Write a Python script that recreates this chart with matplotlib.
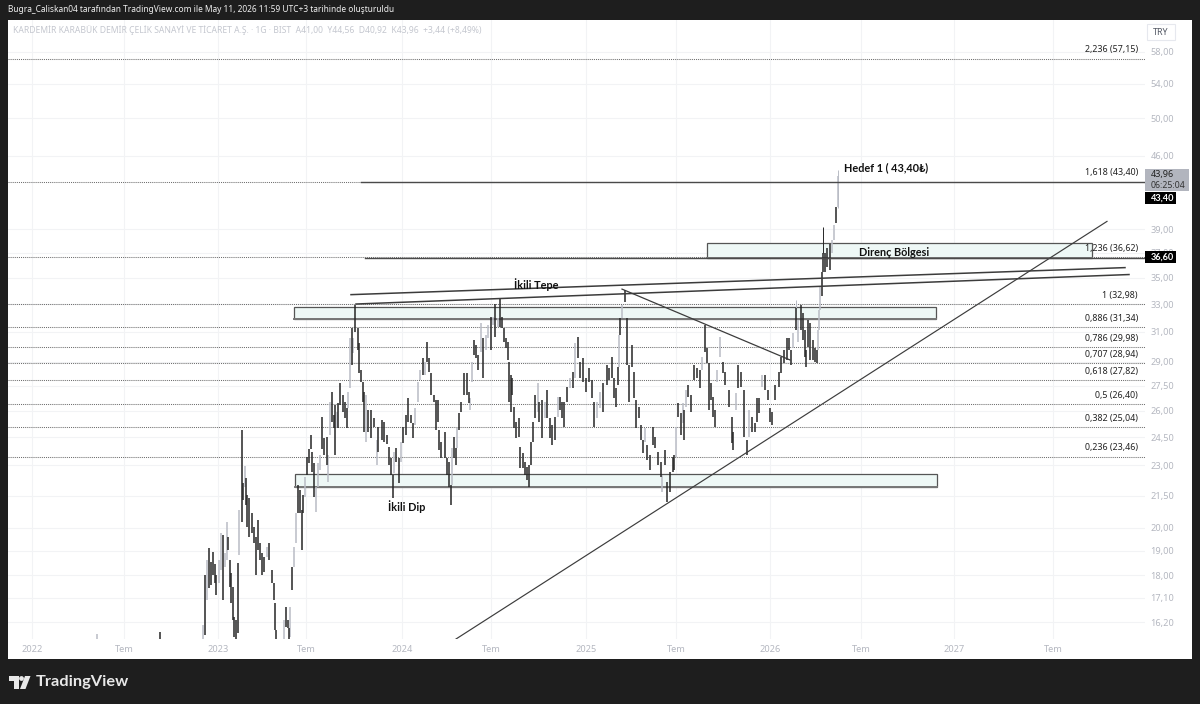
import matplotlib
matplotlib.use("Agg")
import matplotlib.pyplot as plt
from matplotlib.patches import Rectangle, Polygon, Circle
from matplotlib.ticker import FixedLocator, NullLocator

plt.rcParams['font.family'] = ['Noto Sans', 'DejaVu Sans']

# candle bodies, days counted from the start of 2023
bar_day = [
    -242, -116, -30, -26, -22, -18, -14, -10, -6, -4,
    2, 6, 10, 14, 18, 20, 24, 26, 30, 32,
    36, 40, 42, 48, 50, 54, 56, 58, 62, 68,
    72, 76, 80, 84, 88, 92, 98, 102, 108, 112,
    114, 116, 132, 136, 140, 142, 144, 148, 152, 156,
    160, 164, 168, 170, 174, 178, 182, 186, 188, 192,
    196, 200, 204, 208, 212, 218, 220, 224, 228, 232,
    234, 238, 240, 244, 250, 254, 258, 260, 264, 268,
    270, 274, 280, 282, 286, 290, 292, 296, 300, 306,
    312, 318, 320, 328, 332, 338, 342, 346, 350, 352,
    356, 362, 366, 370, 376, 380, 386, 390, 394, 400,
    404, 410, 414, 418, 422, 426, 432, 436, 440, 442,
    446, 454, 458, 462, 466, 468, 472, 476, 478, 482,
    486, 492, 498, 502, 504, 508, 512, 516, 520, 526,
    530, 536, 540, 546, 550, 554, 560, 564, 568, 572,
    576, 580, 582, 586, 588, 592, 596, 602, 604, 610,
    614, 618, 622, 626, 630, 634, 640, 642, 648, 654,
    658, 664, 668, 674, 680, 684, 688, 692, 698, 704,
    710, 714, 720, 724, 730, 736, 742, 748, 752, 758,
    764, 770, 778, 782, 788, 792, 796, 800, 802, 804,
    808, 814, 818, 822, 828, 832, 836, 842, 846, 850,
    854, 858, 864, 870, 874, 880, 886, 888, 894, 898,
    904, 910, 912, 916, 920, 926, 930, 932, 936, 940,
    946, 952, 958, 964, 968, 974, 978, 982, 986, 990,
    994, 998, 1004, 1010, 1014, 1022, 1028, 1030, 1036, 1040,
    1046, 1052, 1058, 1062, 1068, 1074, 1078, 1082, 1088, 1094,
    1100, 1104, 1108, 1114, 1122, 1126, 1132, 1138, 1142, 1146,
    1150, 1156, 1160, 1166, 1170, 1174, 1176, 1180, 1184, 1190,
    1194, 1198, 1200, 1202, 1204, 1208, 1210, 1214, 1218, 1224,
    1228, 1232, 1236, 1240,
]
body_top = [
    15.77, 15.84, 16.10, 18.00, 18.61, 19.12, 18.53, 18.95, 18.44, 18.00,
    18.61, 19.77, 19.68, 18.90, 20.27, 19.59, 18.61, 18.08, 17.52, 16.38,
    16.27, 18.49, 20.82, 24.90, 22.10, 22.96, 22.35, 21.53, 21.39, 20.68,
    20.04, 19.59, 20.36, 19.33, 18.90, 18.73, 19.16, 19.33, 18.20, 17.68,
    16.90, 15.91, 16.27, 16.75, 16.27, 15.98, 16.75, 18.32, 19.16, 20.68,
    22.00, 21.77, 20.82, 21.53, 22.40, 23.44, 23.87, 24.62, 23.70, 23.12,
    21.90, 23.12, 23.54, 25.63, 24.46, 24.51, 23.54, 26.50, 27.11, 25.75,
    26.33, 25.92, 26.44, 27.66, 26.92, 26.50, 26.15, 27.11, 30.59, 31.28,
    30.59, 32.92, 31.28, 30.25, 28.47, 27.72, 27.11, 26.92, 26.04, 26.04,
    25.57, 24.35, 25.07, 25.46, 25.35, 24.62, 23.97, 23.38, 22.50, 23.70,
    23.92, 23.38, 24.24, 25.07, 25.75, 26.74, 25.75, 25.30, 26.15, 27.72,
    28.47, 29.25, 28.99, 30.31, 29.25, 28.28, 26.92, 26.62, 26.62, 24.90,
    24.24, 24.80, 23.38, 23.18, 22.00, 23.92, 24.51, 23.92, 25.00, 25.86,
    26.50, 28.28, 28.28, 27.11, 26.74, 28.99, 30.45, 30.11, 29.45, 31.63,
    30.59, 30.79, 31.49, 32.05, 32.05, 33.03, 31.98, 33.40, 32.05, 31.28,
    30.59, 30.31, 28.99, 28.16, 27.97, 26.21, 25.35, 25.57, 23.97, 23.65,
    23.18, 22.92, 23.02, 24.24, 25.35, 26.92, 27.66, 26.50, 26.62, 26.50,
    27.23, 25.57, 25.18, 25.63, 26.80, 26.80, 26.50, 26.50, 27.41, 27.97,
    28.34, 30.25, 30.66, 28.99, 29.25, 27.97, 28.60, 27.84, 26.50, 26.50,
    27.11, 27.66, 28.80, 28.60, 29.31, 27.97, 27.35, 28.66, 30.79, 31.98,
    32.92, 34.05, 31.98, 28.80, 30.11, 28.34, 26.62, 26.21, 25.18, 24.35,
    25.00, 24.08, 23.54, 25.07, 24.51, 23.70, 23.18, 22.50, 23.81, 22.16,
    22.66, 23.44, 23.54, 25.07, 26.44, 25.86, 26.44, 26.04, 27.23, 27.54,
    26.92, 28.80, 28.60, 28.47, 29.31, 31.49, 29.91, 28.93, 27.66, 26.80,
    26.04, 28.47, 30.66, 28.99, 28.34, 27.23, 25.63, 24.80, 27.05, 28.80,
    28.34, 27.23, 24.35, 26.04, 25.63, 25.30, 26.74, 26.74, 28.16, 28.16,
    27.23, 26.15, 25.92, 27.54, 28.34, 29.31, 29.78, 30.59, 30.59, 29.78,
    30.93, 32.71, 31.84, 32.92, 32.34, 31.14, 29.78, 31.84, 31.63, 30.45,
    29.91, 29.78, 31.14, 32.56, 34.29, 35.45, 37.00, 37.00, 37.43, 37.74,
    38.08, 39.38, 41.00, 43.96,
]
body_bottom = [
    15.50, 15.50, 15.50, 15.74, 17.02, 17.48, 17.60, 18.00, 17.68, 17.21,
    17.68, 18.20, 17.02, 18.32, 18.61, 19.03, 17.52, 16.90, 16.27, 15.67,
    15.56, 15.80, 18.82, 20.27, 21.29, 21.90, 21.05, 20.04, 19.59, 19.77,
    19.33, 18.00, 19.03, 18.61, 18.00, 18.12, 18.73, 18.61, 17.68, 17.02,
    15.91, 15.56, 15.56, 16.02, 15.98, 15.56, 15.67, 17.40, 18.32, 19.33,
    20.68, 20.68, 19.03, 20.68, 21.44, 22.50, 23.12, 23.87, 22.66, 21.44,
    20.73, 21.90, 22.76, 23.87, 23.54, 23.02, 22.16, 24.62, 25.35, 25.00,
    23.54, 25.00, 25.00, 26.33, 25.92, 25.57, 25.00, 26.15, 27.35, 28.80,
    29.58, 31.00, 29.78, 28.28, 27.72, 26.50, 24.80, 24.24, 24.80, 24.46,
    25.07, 23.02, 23.70, 24.35, 24.24, 24.13, 23.02, 22.50, 21.39, 22.60,
    23.18, 22.10, 23.18, 24.19, 24.62, 25.35, 25.30, 24.46, 25.18, 26.50,
    27.84, 28.16, 28.16, 28.99, 28.34, 26.92, 26.50, 24.90, 25.35, 23.81,
    23.38, 23.38, 22.50, 21.90, 21.05, 22.00, 23.38, 23.02, 23.92, 24.90,
    25.92, 26.92, 26.92, 26.44, 26.04, 27.72, 29.45, 29.25, 28.47, 29.65,
    27.97, 29.78, 30.59, 29.78, 31.49, 30.66, 31.35, 31.35, 31.28, 30.31,
    29.91, 29.12, 26.50, 25.92, 26.92, 25.00, 24.46, 24.51, 22.86, 22.86,
    22.50, 22.26, 21.90, 23.02, 24.24, 25.57, 25.92, 25.35, 24.46, 25.57,
    25.57, 24.46, 24.08, 24.35, 25.63, 26.04, 25.57, 25.07, 26.50, 27.35,
    27.35, 27.97, 29.25, 27.97, 27.72, 27.11, 27.72, 26.74, 25.07, 25.57,
    26.15, 25.92, 27.54, 27.84, 27.97, 26.74, 26.21, 27.54, 28.66, 30.79,
    31.98, 33.15, 28.80, 26.50, 28.66, 26.74, 25.00, 25.57, 24.35, 23.65,
    24.24, 23.28, 22.76, 24.08, 23.92, 23.02, 22.40, 21.68, 23.02, 21.20,
    21.68, 22.66, 22.76, 23.44, 25.63, 24.62, 25.30, 24.35, 26.21, 26.80,
    25.92, 27.84, 27.97, 27.35, 28.47, 29.65, 28.93, 26.04, 26.62, 25.63,
    25.07, 27.72, 29.31, 28.28, 27.54, 26.21, 24.19, 23.81, 26.04, 27.35,
    27.41, 24.51, 23.54, 24.51, 24.80, 24.80, 25.35, 25.86, 27.41, 27.23,
    26.62, 25.35, 25.18, 26.62, 27.41, 28.28, 28.93, 29.12, 29.78, 28.80,
    29.91, 31.14, 30.31, 31.14, 30.45, 29.31, 28.66, 29.98, 29.12, 29.12,
    28.99, 28.93, 29.78, 31.14, 32.56, 33.60, 35.45, 35.45, 35.85, 35.61,
    37.00, 38.08, 39.55, 41.00,
]
bar_dir = """
    u d u d u d d d d d
    u u d u u d d d d d
    d d u d d u d d d d
    d d d d d d u d d d
    d d u d d d u d u u
    d d d d u d d d d d
    u u u d d d u u d d
    d u d d d d d u u d
    u d d d d d d u d d
    d u d d d d d d d u
    d d u d d d d d u u
    u d u d d d d d d d
    d d d d d u d d u d
    d d d d u u d d d u
    d u u d u d u d d d
    d d d d d d d d d d
    d d d d d d u d d u
    d d d d u d d d d u
    d u d d d d d d d u
    u d d d d d d d u d
    u d d d d d d d d d
    u d d d d d d u d d
    d d d u d d u d u d
    d d d d u d d d d d
    d u u d d d d d u d
    d d d u d d d d u d
    d d d d d d d d d d
    u d u d d d d d d d
    d d u u u d d d d d
    u u d u
""".split()

# wicks long enough to stand out from their bodies
wick_day = [1156, 1210, 1240]
wick_high = [33.30, 39.20, 44.56]
wick_low = [32.71, 37.00, 40.92]
wick_dir = ["u", "d", "u"]

# fibonacci levels
fib_ratio = ["2,236", "1,618", "1,236", "1", "0,886", "0,786", "0,707", "0,618", "0,5", "0,382", "0,236"]
fib_price = [57.15, 43.40, 36.62, 32.98, 31.34, 29.98, 28.94, 27.82, 26.40, 25.04, 23.46]

# resistance / support zones: start day, end day, low, high
zone_start = [152, 154, 978]
zone_end = [1436, 1438, 1748]
zone_low = [31.91, 21.90, 36.60]
zone_high = [32.78, 22.56, 37.83]

# drawn trend lines: (day, price) at each end
line_day0 = [266, 276, 476, 808]
line_price0 = [33.70, 33.00, 15.60, 34.12]
line_day1 = [1814, 1822, 1778, 1144]
line_price1 = [35.80, 35.25, 39.70, 29.12]
line_width = [1.1, 1.1, 0.85, 0.9]

# horizontal rays
ray_day = [286, 294]
ray_price = [43.40, 36.60]

price_ticks = [58, 54, 50, 46, 39, 37, 35, 33, 31, 29, 27.5, 26, 24.5, 23, 21.5, 20, 19, 18, 17.1, 16.2]
date_ticks = [-372, -188, 0, 176, 368, 546, 736, 916, 1104, 1286, 1472, 1670]
date_labels = ["2022", "Tem", "2023", "Tem", "2024", "Tem", "2025", "Tem", "2026", "Tem", "2027", "Tem"]

DARK = "#1e1e1e"
UP = "#b9bcc5"
DOWN = "#262626"
TICK = "#b4b7c0"
W, H = 1200, 704

fig = plt.figure(figsize=(W / 100, H / 100), dpi=100, facecolor=DARK)
fig.add_artist(Rectangle((8 / W, 1 - 659 / H), 1184 / W, 639 / H, transform=fig.transFigure,
                         facecolor="white", edgecolor="none", zorder=-1))

ax = fig.add_axes([8 / W, 1 - 639 / H, 1137 / W, 619 / H], zorder=1)
ax.patch.set_alpha(0)
ax.set_yscale("log")
ax.set_xlim(-420, 1854)
ax.set_ylim(15.60, 62.29)
for s in ax.spines.values():
    s.set_visible(False)

ax.yaxis.tick_right()
ax.yaxis.set_major_locator(FixedLocator(price_ticks))
ax.set_yticklabels([("%.2f" % p).replace(".", ",") for p in price_ticks])
ax.yaxis.set_minor_locator(NullLocator())
ax.set_xticks(date_ticks, labels=date_labels)
ax.tick_params(axis="both", length=0, labelsize=6.6, labelcolor=TICK)
ax.tick_params(axis="y", pad=4)
ax.tick_params(axis="x", pad=4)
ax.grid(True, color="#f2f3f5", linewidth=0.8)
ax.set_axisbelow(True)

for price in fib_price:
    ax.axhline(price, color="#6e6e6e", linewidth=0.75, linestyle=(0, (1, 1)), zorder=1.5)

for x0, x1, lo, hi in zip(zone_start, zone_end, zone_low, zone_high):
    ax.add_patch(Rectangle((x0, lo), x1 - x0, hi - lo, facecolor="#eef8f6",
                           edgecolor="#555555", linewidth=0.9, zorder=1.8))
    ax.plot([x0, x1], [lo, lo], color="#777777", linewidth=1.4, zorder=1.9)

up_idx = [i for i, d in enumerate(bar_dir) if d == "u"]
down_idx = [i for i, d in enumerate(bar_dir) if d == "d"]
ax.vlines([bar_day[i] for i in up_idx], [body_bottom[i] for i in up_idx],
          [body_top[i] for i in up_idx], colors=UP, linewidth=1.1, zorder=3)
ax.vlines([bar_day[i] for i in down_idx], [body_bottom[i] for i in down_idx],
          [body_top[i] for i in down_idx], colors=DOWN, linewidth=1.1, zorder=3.2)
ax.vlines(wick_day, wick_low, wick_high,
          colors=[UP if d == "u" else DOWN for d in wick_dir], linewidth=0.7, zorder=3)

for x0, p0, x1, p1, lw in zip(line_day0, line_price0, line_day1, line_price1, line_width):
    ax.plot([x0, x1], [p0, p1], color="#3c3c3c", linewidth=lw, zorder=4)
for x0, price in zip(ray_day, ray_price):
    ax.plot([x0, 1854], [price, price], color="#4a4a4a", linewidth=1.0, zorder=4)

trans = ax.get_yaxis_transform()
for ratio, price in zip(fib_ratio, fib_price):
    ax.annotate("%s (%s)" % (ratio, ("%.2f" % price).replace(".", ",")),
                xy=(0.9938, price), xycoords=trans, xytext=(0, 6.2), textcoords="offset points",
                ha="right", va="center", fontsize=6.4, color="#222222", zorder=5)

label_style = dict(family=["Lato", "DejaVu Sans"], fontsize=7.8, fontweight="bold",
                   color="#111111", va="center", ha="left", zorder=6)
ax.text(1252, 44.72, "Hedef 1 ( 43,40₺)", **label_style)
ax.text(1282, 37.07, "Direnç Bölgesi", **label_style)
ax.text(592, 34.44, "İkili Tepe", **label_style)
ax.text(340, 21.00, "İkili Dip", **label_style)

# overlay in screen pixels for the header, the price tags and the logo
ov = fig.add_axes([0, 0, 1, 1], zorder=5)
ov.set_xlim(0, W)
ov.set_ylim(H, 0)
ov.axis("off")

ov.text(8, 10, "Bugra_Caliskan04 tarafından TradingView.com ile May 11, 2026 11:59 UTC+3 tarihinde oluşturuldu",
        color="#f0f0f0", fontsize=6.0, va="center", ha="left")
ov.text(13, 30, "KARDEMİR KARABÜK DEMİR ÇELİK SANAYİ VE TİCARET A.Ş. · 1G · BIST  A41,00  Y44,56  D40,92  K43,96  +3,44 (+8,49%)",
        color="#c4c7cf", fontsize=6.15, va="center", ha="left")

ov.add_patch(Rectangle((1147, 24), 28, 16, facecolor="white", edgecolor="#e6e8ee", linewidth=0.8))
ov.text(1161, 32.5, "TRY", color="#555a66", fontsize=6.4, ha="center", va="center")

ov.add_patch(Rectangle((1145, 169), 44, 22, facecolor="#b2b5be", edgecolor="none"))
ov.text(1151, 174.5, "43,96", color="#222222", fontsize=6.5, va="center")
ov.text(1151, 185, "06:25:04", color="#333333", fontsize=6.3, va="center")
ov.add_patch(Rectangle((1145, 192), 31, 12, facecolor="black", edgecolor="none"))
ov.text(1151, 198, "43,40", color="white", fontsize=6.6, family=["Lato", "DejaVu Sans"], fontweight="bold", va="center")
ov.add_patch(Rectangle((1145, 251), 31, 12, facecolor="black", edgecolor="none"))
ov.text(1151, 257, "36,60", color="white", fontsize=6.6, family=["Lato", "DejaVu Sans"], fontweight="bold", va="center")

# TradingView wordmark
logo = "#e8e8e8"
ov.add_patch(Polygon([(9, 676), (18.5, 676), (18.5, 689), (14, 689), (14, 681), (9, 681)], color=logo, lw=0))
ov.add_patch(Circle((21.5, 678.5), 2.4, color=logo, lw=0))
ov.add_patch(Polygon([(25, 676), (30.5, 676), (25.5, 689), (20, 689)], color=logo, lw=0))
ov.text(36, 682, "TradingView", color=logo, fontsize=11.8, family=["Lato", "DejaVu Sans"], fontweight="bold",
        va="center", ha="left")

fig.savefig("out.png", dpi=100, facecolor=DARK)
